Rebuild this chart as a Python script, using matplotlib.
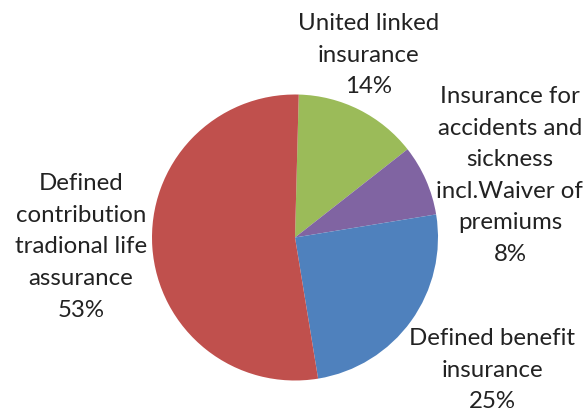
import matplotlib
matplotlib.use("Agg")
import matplotlib.pyplot as plt

# data (clockwise from the top)
categories = [
    "United linked\ninsurance",
    "Insurance for\naccidents and\nsickness\nincl.Waiver of\npremiums",
    "Defined benefit\ninsurance",
    "Defined\ncontribution\ntradional life\nassurance",
]
shares = [14, 8, 25, 53]
colors = ["#9BBB59", "#8064A2", "#4F81BD", "#C0504D"]

# label centres, in pie radius units
label_pos = [(0.517, 1.276), (1.503, 0.434), (1.378, -0.927), (-1.497, -0.066)]

fig = plt.figure(figsize=(5.87, 4.12), dpi=100)
ax = fig.add_axes([0, 0, 1, 1])

ax.pie(shares, colors=colors, startangle=88.5, counterclock=False,
       radius=1, center=(0, 0), wedgeprops=dict(linewidth=0))

for name, val, (x, y) in zip(categories, shares, label_pos):
    ax.text(x, y, f"{name}\n{val}%", ha="center", va="center",
            fontsize=17.3, family="Lato", color="#222222", linespacing=1.62)

ax.set_xlim(-295 / 143, (587 - 295) / 143)
ax.set_ylim(-(412 - 237.5) / 143, 237.5 / 143)
ax.set_aspect("equal")
ax.set_axis_off()

fig.savefig("out.png", dpi=100)
